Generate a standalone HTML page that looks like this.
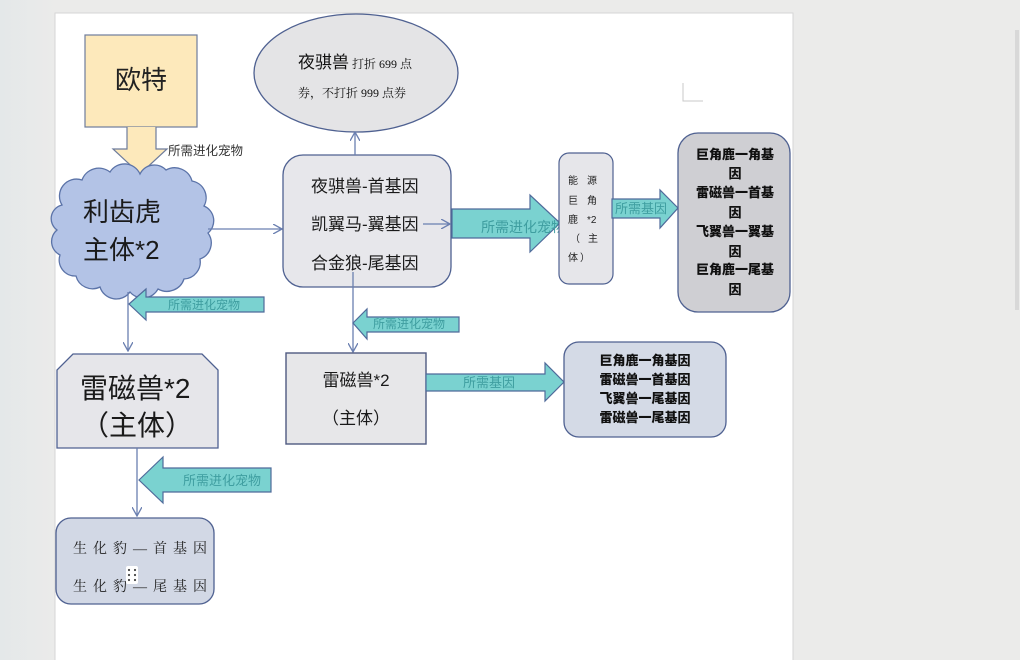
<!DOCTYPE html>
<html><head><meta charset="utf-8">
<style>
html,body{margin:0;padding:0;width:1020px;height:660px;overflow:hidden;background:#ebebea;}
svg{display:block;}
text{font-family:"Liberation Sans","Noto Sans CJK SC",sans-serif;}
.serif{font-family:"Liberation Serif","Noto Serif CJK SC",serif;}
.teal{fill:#3f9ea0;}
.heavy{font-weight:900;fill:#111;}
</style></head>
<body>
<svg width="1020" height="660" viewBox="0 0 1020 660" xmlns="http://www.w3.org/2000/svg">
<defs>
<linearGradient id="bg" x1="0" y1="0" x2="1" y2="0">
<stop offset="0" stop-color="#e4e8e9"/><stop offset="1" stop-color="#ebebea"/>
</linearGradient>
<marker id="ah" viewBox="0 0 10 10" refX="9" refY="5" markerWidth="10" markerHeight="10" markerUnits="userSpaceOnUse" orient="auto">
<path d="M0,0 L9,5 L0,10" fill="none" stroke="#6a7fb0" stroke-width="1.3"/>
</marker>
</defs>
<rect x="0" y="0" width="1020" height="660" fill="#ebebea"/>
<rect x="0" y="0" width="55" height="660" fill="url(#bg)"/>
<!-- page -->
<rect x="55" y="13" width="738" height="660" fill="#ffffff" stroke="#d6d6d6" stroke-width="1"/>
<!-- right scrollbar -->
<rect x="1015" y="30" width="4" height="280" fill="#d8d8d8"/>
<!-- page corner mark -->
<path d="M683,83 L683,101 L703,101" fill="none" stroke="#c8c8c8" stroke-width="1"/>

<!-- ellipse -->
<ellipse cx="356" cy="73" rx="102" ry="59" fill="#e4e4e6" stroke="#4f6191" stroke-width="1.3"/>
<text x="298" y="68" font-size="17" fill="#111">夜骐兽<tspan class="serif" font-size="12" dx="3">打折 699 点</tspan></text>
<text class="serif" x="298" y="97" font-size="12" fill="#111">券，不打折 999 点券</text>

<!-- yellow box + arrow -->
<rect x="85" y="35" width="112" height="92" fill="#fde9bb" stroke="#6e7c9c" stroke-width="1.2"/>
<text x="141" y="89" font-size="26" text-anchor="middle" fill="#222">欧特</text>
<path d="M127,127 L127,149 L113,149 L140,174 L167,149 L156,149 L156,127" fill="#fde9bb" stroke="#6e7c9c" stroke-width="1.2"/>
<text x="168" y="155" font-size="12.5" fill="#333">所需进化宠物</text>

<!-- cloud -->
<path d="M62,205 A17,17 0 0 1 82,180 A18,18 0 0 1 110,172 A17,17 0 0 1 140,174 A16,16 0 0 1 166,170 A18,18 0 0 1 192,181 A17,17 0 0 1 204,206 A16,16 0 0 1 208,233 A17,17 0 0 1 200,259 A17,17 0 0 1 184,279 A18,18 0 0 1 158,289 A17,17 0 0 1 130,292 A17,17 0 0 1 100,287 A17,17 0 0 1 76,276 A16,16 0 0 1 60,255 A15,15 0 0 1 57,230 A14,14 0 0 1 62,205 Z" fill="#b3c3e6" stroke="#5b73a8" stroke-width="1.3"/>
<text x="83" y="221" font-size="26" fill="#1a1a1a">利齿虎</text>
<text x="83" y="259" font-size="26" fill="#1a1a1a">主体*2</text>

<!-- cloud -> middle box -->
<line x1="208" y1="229" x2="282" y2="229" stroke="#6a7fb0" stroke-width="1.3" marker-end="url(#ah)"/>

<!-- middle rounded box -->
<rect x="283" y="155" width="168" height="132" rx="20" ry="20" fill="#e7e7eb" stroke="#4f6191" stroke-width="1.3"/>
<text x="311" y="192" font-size="17" fill="#1a1a1a">夜骐兽-首基因</text>
<text x="311" y="230" font-size="17" fill="#1a1a1a">凯翼马-翼基因</text>
<text x="311" y="269" font-size="17" fill="#1a1a1a">合金狼-尾基因</text>
<line x1="423" y1="224" x2="450" y2="224" stroke="#6a7fb0" stroke-width="1.3" marker-end="url(#ah)"/>
<!-- box -> ellipse -->
<line x1="355" y1="155" x2="355" y2="132" stroke="#6a7fb0" stroke-width="1.3" marker-end="url(#ah)"/>

<!-- big teal arrow -->
<path d="M452,209 L530,209 L530,195 L560,223 L530,252 L530,238 L452,238 Z" fill="#7ad2d0" stroke="#4f6a9a" stroke-width="1.2"/>
<text x="481" y="232" font-size="14" class="teal">所需进化宠物</text>

<!-- small box 能源巨角鹿 -->
<rect x="559" y="153" width="54" height="131" rx="10" ry="10" fill="#e6e6ea" stroke="#4f6191" stroke-width="1.2"/>
<g class="serif" font-size="10" fill="#222">
<text x="568" y="184">能</text><text x="587" y="184">源</text>
<text x="568" y="204">巨</text><text x="587" y="204">角</text>
<text x="568" y="223">鹿</text><text x="587" y="223">*2</text>
<text x="570" y="242">（</text><text x="588" y="242">主</text>
<text x="568" y="261">体</text><text x="580" y="261">）</text>
</g>

<!-- 所需基因 arrow top -->
<path d="M612,199 L660,199 L660,190 L678,208 L660,228 L660,218 L612,218 Z" fill="#7ad2d0" stroke="#4f6a9a" stroke-width="1.2"/>
<text x="615" y="213" font-size="13" class="teal">所需基因</text>

<!-- right top box -->
<rect x="678" y="133" width="112" height="179" rx="20" ry="20" fill="#cfcfd3" stroke="#4f6191" stroke-width="1.3"/>
<g font-size="13" text-anchor="middle" class="heavy">
<text x="735" y="159">巨角鹿一角基</text>
<text x="735" y="178">因</text>
<text x="735" y="197">雷磁兽一首基</text>
<text x="735" y="217">因</text>
<text x="735" y="236">飞翼兽一翼基</text>
<text x="735" y="256">因</text>
<text x="735" y="274">巨角鹿一尾基</text>
<text x="735" y="294">因</text>
</g>

<!-- cloud -> left 雷磁兽 -->
<line x1="128" y1="292" x2="128" y2="351" stroke="#6a7fb0" stroke-width="1.3" marker-end="url(#ah)"/>
<path d="M129,304 L146,289 L146,297 L264,297 L264,312 L146,312 L146,320 Z" fill="#7ad2d0" stroke="#4f6a9a" stroke-width="1.2"/>
<text x="168" y="309" font-size="12" class="teal">所需进化宠物</text>

<!-- left 雷磁兽 box -->
<path d="M73,354 L202,354 L218,370 L218,448 L57,448 L57,370 Z" fill="#e6e6ea" stroke="#4f6191" stroke-width="1.3"/>
<text x="80" y="398" font-size="28" fill="#1a1a1a">雷磁兽*2</text>
<text x="137" y="435" font-size="28" fill="#1a1a1a" text-anchor="middle">（主体）</text>

<!-- left 雷磁兽 -> bottom box -->
<line x1="137" y1="448" x2="137" y2="516" stroke="#6a7fb0" stroke-width="1.3" marker-end="url(#ah)"/>
<path d="M139,480 L163,457 L163,468 L271,468 L271,492 L163,492 L163,503 Z" fill="#7ad2d0" stroke="#4f6a9a" stroke-width="1.2"/>
<text x="183" y="485" font-size="13" class="teal">所需进化宠物</text>

<!-- bottom-left box -->
<rect x="56" y="518" width="158" height="86" rx="15" ry="15" fill="#d2d8e5" stroke="#4f6191" stroke-width="1.3"/>
<text class="serif" x="73" y="553" font-size="14" fill="#222" letter-spacing="6">生化豹—首基因</text>
<text class="serif" x="73" y="591" font-size="14" fill="#222" letter-spacing="6">生化豹—尾基因</text>
<rect x="126" y="566" width="12" height="18" rx="2" fill="#ffffff"/>
<g fill="#444">
<circle cx="129" cy="570" r="1.1"/><circle cx="135" cy="570" r="1.1"/>
<circle cx="129" cy="575" r="1.1"/><circle cx="135" cy="575" r="1.1"/>
<circle cx="129" cy="580" r="1.1"/><circle cx="135" cy="580" r="1.1"/>
</g>

<!-- middle box -> right 雷磁兽 -->
<line x1="353" y1="272" x2="353" y2="352" stroke="#6a7fb0" stroke-width="1.3" marker-end="url(#ah)"/>
<path d="M353,323 L367,309 L367,317 L459,317 L459,332 L367,332 L367,339 Z" fill="#7ad2d0" stroke="#4f6a9a" stroke-width="1.2"/>
<text x="373" y="328" font-size="12" class="teal">所需进化宠物</text>

<!-- right 雷磁兽 box -->
<rect x="286" y="353" width="140" height="91" fill="#e7e7e9" stroke="#4f5a80" stroke-width="1.4"/>
<text x="356" y="386" font-size="17" fill="#1a1a1a" text-anchor="middle">雷磁兽*2</text>
<text x="356" y="424" font-size="17" fill="#1a1a1a" text-anchor="middle">（主体）</text>

<!-- 所需基因 arrow bottom -->
<path d="M426,374 L545,374 L545,363 L564,382 L545,401 L545,391 L426,391 Z" fill="#7ad2d0" stroke="#4f6a9a" stroke-width="1.2"/>
<text x="463" y="387" font-size="13" class="teal">所需基因</text>

<!-- right bottom box -->
<rect x="564" y="342" width="162" height="95" rx="15" ry="15" fill="#d4dae6" stroke="#4f6191" stroke-width="1.3"/>
<g font-size="13" text-anchor="middle" class="heavy">
<text x="645" y="365">巨角鹿一角基因</text>
<text x="645" y="384">雷磁兽一首基因</text>
<text x="645" y="403">飞翼兽一尾基因</text>
<text x="645" y="422">雷磁兽一尾基因</text>
</g>
</svg>
</body></html>
